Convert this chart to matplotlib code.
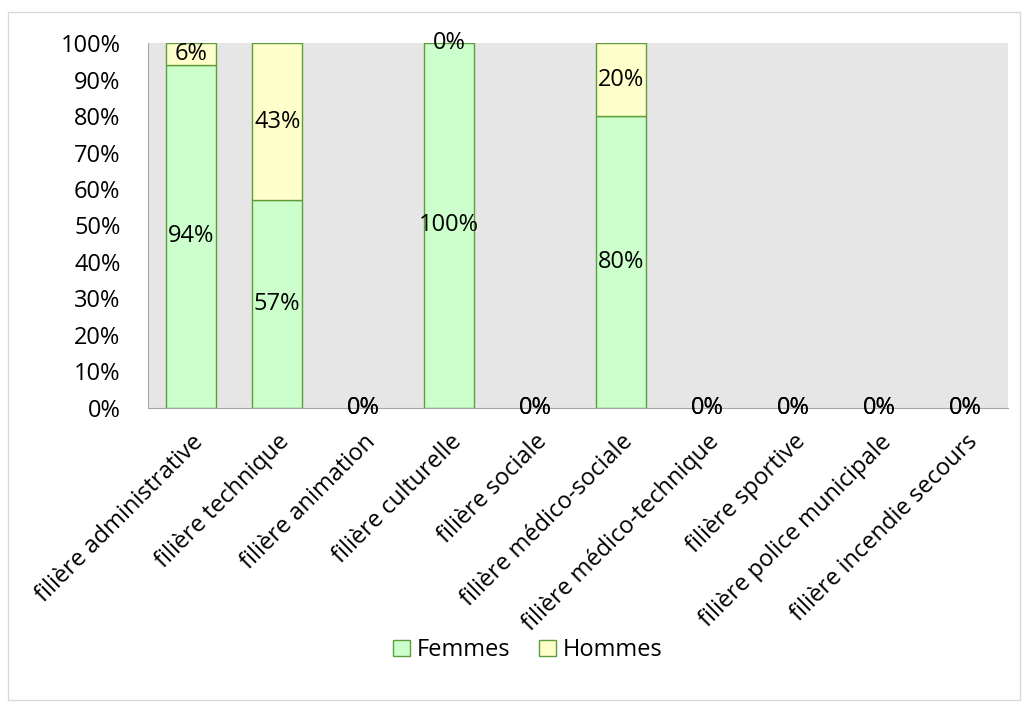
import matplotlib.pyplot as plt
import numpy as np
from matplotlib.patches import Rectangle
from matplotlib.ticker import PercentFormatter

categories = ["filière administrative", "filière technique", "filière animation",
              "filière culturelle", "filière sociale", "filière médico-sociale",
              "filière médico-technique", "filière sportive",
              "filière police municipale", "filière incendie secours"]
femmes = [94, 57, 0, 100, 0, 80, 0, 0, 0, 0]
hommes = [6, 43, 0, 0, 0, 20, 0, 0, 0, 0]

plt.rcParams["font.family"] = ["Open Sans", "DejaVu Sans"]
FS = 17

fig = plt.figure(figsize=(10.29, 7.09), dpi=100)
fig.patches.append(Rectangle((0.008, 0.013), 0.983, 0.97, transform=fig.transFigure,
                             fill=False, edgecolor="#d9d9d9", linewidth=1))
ax = fig.add_axes([0.144, 0.425, 0.836, 0.514])
ax.set_facecolor("#e6e6e6")

x = np.arange(len(categories))
w = 0.58
f = np.array(femmes)
h = np.array(hommes)
ax.bar(x, f, w, color="#ccffcc", edgecolor="#5e9e3a",
       linewidth=[1 if v else 0 for v in f], label="Femmes")
ax.bar(x, h, w, bottom=f, color="#ffffcc", edgecolor="#5e9e3a",
       linewidth=[1 if v else 0 for v in h], label="Hommes")

for i in x:
    ax.text(i, f[i] / 2, f"{f[i]}%", ha="center", va="center", fontsize=FS)
    ax.text(i, f[i] + h[i] / 2, f"{h[i]}%", ha="center", va="center", fontsize=FS)

ax.set_xlim(-0.5, len(categories) - 0.5)
ax.set_ylim(0, 100)
ax.set_yticks(range(0, 101, 10))
ax.yaxis.set_major_formatter(PercentFormatter(decimals=0))
ax.set_xticks(x)
ax.set_xticklabels(categories, rotation=45, ha="right", rotation_mode="anchor")
ax.tick_params(axis="both", length=0, labelsize=FS)
ax.tick_params(axis="y", pad=20)
ax.tick_params(axis="x", pad=16)
for s in ["top", "right"]:
    ax.spines[s].set_visible(False)
for s in ["left", "bottom"]:
    ax.spines[s].set_color("#a6a6a6")

fig.legend(loc="center", bbox_to_anchor=(0.513, 0.083), ncol=2, frameon=False,
           fontsize=FS, handlelength=0.7, handleheight=0.7, columnspacing=1.2,
           handletextpad=0.3)

fig.savefig("out.png", dpi=100)
